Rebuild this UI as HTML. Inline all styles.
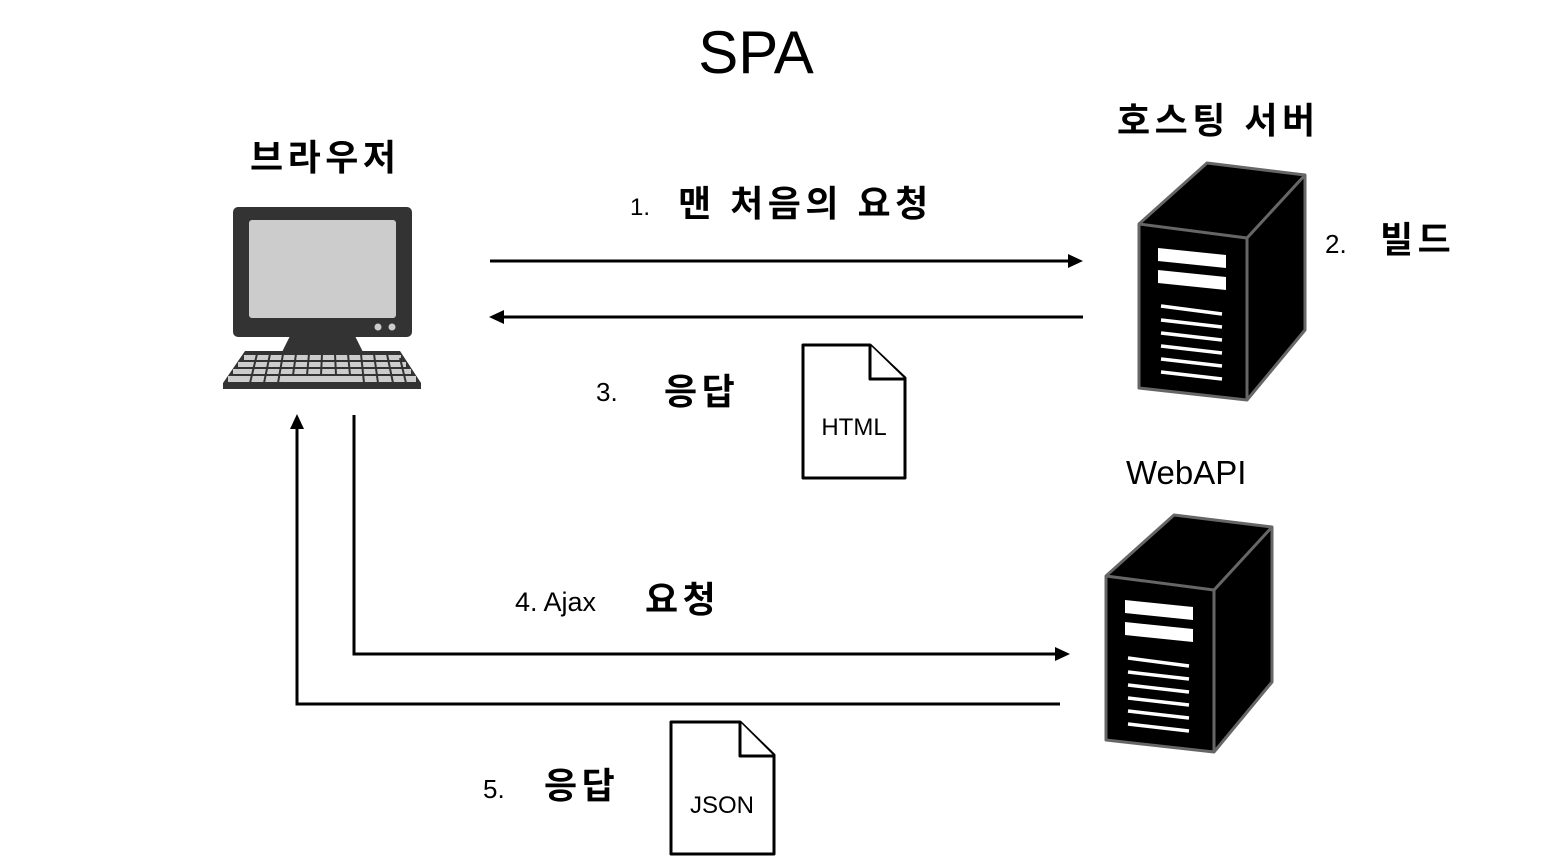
<!DOCTYPE html>
<html><head><meta charset="utf-8"><style>
body{margin:0;background:#fff}
svg{display:block}
text{font-family:"Liberation Sans","Noto Sans CJK KR",sans-serif}
.k{font-weight:bold;font-size:36px;letter-spacing:4.5px}
</style></head><body>
<svg width="1554" height="867" viewBox="0 0 1554 867" xmlns="http://www.w3.org/2000/svg">
<defs>
<g id="srv">
<polygon points="1139,224 1207,163 1305,175 1305,330 1247,400 1139,388" fill="#000" stroke="#666" stroke-width="3" stroke-linejoin="round"/>
<polyline points="1139,224 1247,238 1305,175" fill="none" stroke="#666" stroke-width="3"/>
<line x1="1247" y1="238" x2="1247" y2="400" stroke="#666" stroke-width="3"/>
<polygon points="1158,248 1226,255 1226,268 1158,261" fill="#fff"/>
<polygon points="1158,270 1226,277 1226,290 1158,283" fill="#fff"/>
<g stroke="#fff" stroke-width="3.5">
<line x1="1161" y1="306" x2="1222" y2="314"/>
<line x1="1161" y1="320" x2="1222" y2="327"/>
<line x1="1161" y1="333" x2="1222" y2="340"/>
<line x1="1161" y1="346" x2="1222" y2="353"/>
<line x1="1161" y1="359" x2="1222" y2="366"/>
<line x1="1161" y1="372" x2="1222" y2="379"/>
</g>
</g>
</defs>
<text x="756" y="73" font-size="60" text-anchor="middle">SPA</text>
<text x="250" y="170" class="k">브라우저</text>
<text x="1117" y="133" class="k">호스팅 서버</text>
<text x="630" y="215" font-size="24">1.</text>
<text x="678" y="216" class="k">맨 처음의 요청</text>
<text x="1325" y="253" font-size="26">2.</text>
<text x="1380" y="252" class="k">빌드</text>
<text x="596" y="401" font-size="26">3.</text>
<text x="664" y="404" class="k">응답</text>
<text x="1126" y="484" font-size="33">WebAPI</text>
<text x="515" y="611" font-size="27">4. Ajax</text>
<text x="645" y="612" class="k">요청</text>
<text x="483" y="798" font-size="26">5.</text>
<text x="544" y="798" class="k">응답</text>

<rect x="233" y="207" width="179" height="130" rx="5" fill="#333"/>
<rect x="249" y="220" width="147" height="98" rx="3" fill="#ccc"/>
<circle cx="378" cy="327" r="3.5" fill="#ccc"/><circle cx="392" cy="327" r="3.5" fill="#ccc"/>
<polygon points="290,336 355,336 364,354 281,354" fill="#333"/>
<polygon points="245,351 400,351 421,383 421,389 223,389 223,383" fill="#333"/>
<g fill="#ccc">
<rect x="244" y="355" width="157" height="5"/>
<rect x="238" y="362" width="168" height="5"/>
<rect x="233" y="369" width="178" height="5"/>
<rect x="228" y="376" width="188" height="6"/>
</g>
<g stroke="#333" stroke-width="2">
<line x1="257" y1="354" x2="250" y2="383"/><line x1="270" y1="354" x2="264" y2="383"/>
<line x1="283" y1="354" x2="278" y2="383"/><line x1="296" y1="354" x2="293" y2="375"/>
<line x1="309" y1="354" x2="307" y2="375"/><line x1="322" y1="354" x2="321" y2="375"/>
<line x1="335" y1="354" x2="336" y2="375"/><line x1="348" y1="354" x2="350" y2="375"/>
<line x1="361" y1="354" x2="364" y2="383"/><line x1="374" y1="354" x2="378" y2="383"/>
<line x1="387" y1="354" x2="393" y2="383"/><line x1="400" y1="358" x2="406" y2="383"/>
</g>

<use href="#srv"/>
<use href="#srv" transform="translate(-33,352)"/>

<g stroke="#000" stroke-width="3" fill="none">
<line x1="490" y1="261" x2="1070" y2="261"/>
<line x1="503" y1="317" x2="1083" y2="317"/>
<polyline points="354,415 354,654 1056,654"/>
<polyline points="1060,704 297,704 297,428"/>
</g>
<g fill="#000">
<polygon points="1083,261 1068,254 1068,268"/>
<polygon points="489,317 504,310 504,324"/>
<polygon points="1070,654 1055,647 1055,661"/>
<polygon points="297,414 290,429 304,429"/>
</g>

<g fill="#fff" stroke="#000" stroke-width="3" stroke-linejoin="round">
<path d="M803,345 L870,345 L905,378 L905,478 L803,478 Z"/>
<path d="M870,345 L870,379 L905,379"/>
<path d="M671,722 L740,722 L774,755 L774,854 L671,854 Z"/>
<path d="M740,722 L740,756 L774,756"/>
</g>
<text x="854" y="435" font-size="24" text-anchor="middle">HTML</text>
<text x="722" y="813" font-size="24" text-anchor="middle">JSON</text>
</svg>
</body></html>
